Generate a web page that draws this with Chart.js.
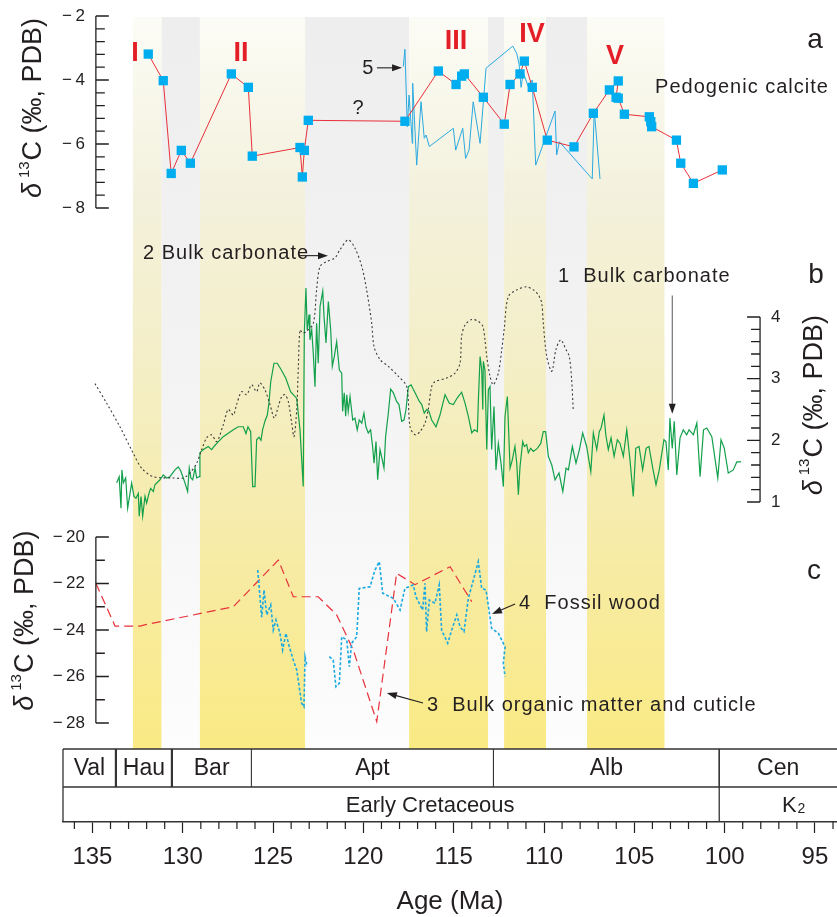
<!DOCTYPE html>
<html>
<head>
<meta charset="utf-8">
<script src="https://cdn.jsdelivr.net/npm/chart.js@4.4.1/dist/chart.umd.min.js"></script>
<style>
  html, body { margin: 0; padding: 0; background: #fff; }
  #wrap { width: 837px; height: 917px; }
</style>
</head>
<body>
<div id="wrap"><canvas id="chart" width="837" height="917"></canvas></div>
<script>
// ── Early Cretaceous carbon isotope curves (panels a, b, c) ──────────────────

var FONT = '"Liberation Sans", Arial, Helvetica, sans-serif';
var INK  = '#231f20';

// Panel a: pedogenic calcite (red line + blue squares)
var calciteAge  = [131.91, 131.08, 130.64, 130.08, 129.58, 127.31, 126.37, 126.15, 123.51, 123.38, 123.27, 123.05,
                   117.70, 115.85, 114.87, 114.56, 114.41, 113.36, 112.20, 111.88, 111.33, 111.09, 110.65, 109.82,
                   108.34, 107.27, 106.38, 105.89, 106.01, 105.89, 105.55, 104.17, 104.09, 104.04, 102.67, 102.43,
                   101.73, 100.13];
var calciteD13C = [-3.19, -4.02, -6.92, -6.20, -6.60, -3.81, -4.23, -6.38, -6.11, -7.03, -6.20, -5.26,
                   -5.29, -3.72, -4.14, -3.88, -3.81, -4.54, -5.38, -4.14, -3.81, -3.41, -4.23, -5.88,
                   -6.09, -5.04, -4.31, -4.03, -4.54, -4.57, -5.07, -5.15, -5.30, -5.46, -5.88, -6.60,
                   -7.23, -6.81];

// Panel a: curve 5 (thin blue)
var curve5Age  = [117.79, 117.70, 117.57, 117.47, 117.29, 117.27, 117.05, 116.81, 116.63, 116.53, 116.35, 115.02,
                  114.89, 114.50, 114.34, 114.15, 113.92, 113.54, 113.21, 111.73, 111.51, 111.38, 111.27, 111.15,
                  110.87, 110.65, 110.46, 110.00, 109.39, 109.30, 109.15, 107.33, 107.22, 106.90];
var curve5D13C = [-3.58, -3.04, -5.46, -4.47, -5.98, -4.10, -6.66, -4.68, -5.82, -5.72, -6.08, -5.51,
                  -6.19, -5.51, -6.45, -6.19, -4.68, -5.98, -3.63, -2.94, -3.17, -3.51, -4.23, -3.77,
                  -4.21, -4.00, -6.66, -5.93, -4.97, -6.34, -5.93, -7.09, -4.94, -7.09];

// Panel b: curve 1 bulk carbonate (green)
var bulk1Age = [133.66, 133.52, 133.42, 133.37, 133.29, 133.16, 133.05, 132.92, 132.83, 132.70, 132.59, 132.46,
                132.41, 132.31, 132.22, 132.09, 132.00, 131.87, 131.78, 131.63, 131.54, 131.26, 131.08, 130.89,
                130.71, 130.43, 130.25, 130.12, 129.97, 129.88, 129.73, 129.64, 129.55, 129.45, 129.32, 129.23,
                129.10, 129.05, 128.86, 128.59, 128.40, 128.27, 128.12, 127.76, 127.20, 126.93, 126.65, 126.50,
                126.39, 126.24, 126.13, 126.00, 125.91, 125.78, 125.67, 125.58, 125.45, 125.32, 125.23, 125.13,
                124.95, 124.77, 124.58, 124.30, 124.03, 123.69, 123.51, 123.33, 123.27, 123.18, 123.11, 123.01,
                122.96, 122.86, 122.77, 122.68, 122.59, 122.50, 122.40, 122.25, 122.18, 122.07, 121.94, 121.81,
                121.72, 121.61, 121.48, 121.33, 121.20, 121.15, 121.06, 120.98, 120.92, 120.84, 120.74, 120.59,
                120.47, 120.34, 120.23, 120.09, 119.97, 119.86, 119.73, 119.60, 119.49, 119.41, 119.30, 119.21,
                119.08, 118.95, 118.86, 118.77, 118.62, 118.49, 118.34, 118.16, 118.03, 117.88, 117.75, 117.64,
                117.51, 117.36, 117.14, 116.90, 116.77, 116.63, 116.49, 116.37, 116.22, 115.98, 115.76, 115.48,
                115.24, 115.02, 114.80, 114.56, 114.37, 114.19, 114.00, 113.86, 113.69, 113.64, 113.54, 113.45,
                113.39, 113.36, 113.27, 113.17, 113.08, 112.99, 112.90, 112.77, 112.66, 112.53, 112.38, 112.25,
                112.16, 112.03, 111.88, 111.76, 111.61, 111.51, 111.42, 111.33, 111.18, 111.09, 110.96, 110.87,
                110.74, 110.59, 110.37, 110.18, 110.04, 109.91, 109.76, 109.57, 109.39, 109.17, 108.96, 108.78,
                108.65, 108.43, 108.23, 108.04, 107.86, 107.64, 107.41, 107.27, 107.08, 106.94, 106.84, 106.68,
                106.58, 106.44, 106.29, 106.12, 105.94, 105.79, 105.61, 105.42, 105.24, 105.06, 104.92, 104.74,
                104.54, 104.35, 104.19, 103.98, 103.80, 103.62, 103.36, 103.25, 103.12, 103.03, 102.90, 102.79,
                102.65, 102.47, 102.29, 102.10, 101.97, 101.73, 101.54, 101.36, 101.17, 100.99, 100.71, 100.38,
                100.20, 100.02, 99.80, 99.52, 99.33, 99.09];
var bulk1D13C = [1.31, 1.41, 0.90, 1.52, 1.31, 1.39, 0.90, 1.14, 1.31, 1.09, 1.06, 1.14,
                 0.77, 1.09, 0.77, 1.09, 0.98, 1.14, 1.22, 1.17, 1.28, 1.36, 1.44, 1.39,
                 1.41, 1.52, 1.57, 1.51, 1.39, 1.31, 1.17, 1.55, 1.39, 1.36, 1.55, 1.39,
                 1.41, 1.80, 1.85, 1.90, 1.85, 1.90, 1.95, 2.06, 2.17, 2.22, 2.22, 2.11,
                 2.22, 2.14, 1.25, 1.25, 2.01, 2.05, 2.00, 2.17, 2.31, 2.41, 2.60, 2.95,
                 3.25, 3.25, 3.16, 3.01, 2.79, 2.68, 2.17, 1.25, 3.74, 4.47, 3.79, 4.04,
                 3.63, 3.79, 3.39, 2.87, 3.90, 3.25, 4.17, 4.42, 4.01, 3.58, 4.25, 3.79,
                 3.20, 3.36, 3.60, 3.14, 3.09, 2.47, 2.77, 2.39, 2.74, 2.47, 2.71, 2.33,
                 2.36, 2.17, 2.33, 2.28, 2.44, 2.22, 2.12, 2.17, 1.90, 1.63, 1.98, 1.36,
                 1.85, 1.68, 1.55, 2.06, 2.44, 2.83, 2.77, 2.63, 2.58, 2.31, 2.33, 2.50,
                 2.87, 2.90, 2.77, 2.63, 2.58, 2.44, 2.50, 2.47, 2.33, 2.22, 2.41, 2.74,
                 2.60, 2.58, 2.69, 2.78, 2.60, 2.39, 2.12, 2.17, 2.14, 2.60, 3.36, 3.14,
                 2.50, 3.28, 3.14, 1.85, 2.82, 2.87, 1.85, 2.55, 1.52, 1.95, 1.63, 1.25,
                 2.39, 2.71, 1.55, 1.68, 1.90, 1.63, 1.12, 1.57, 1.98, 1.90, 1.93, 1.80,
                 1.87, 1.82, 1.87, 1.95, 2.14, 2.14, 1.74, 1.60, 1.36, 1.47, 1.17, 1.55,
                 1.52, 1.90, 1.63, 1.85, 2.12, 1.90, 1.49, 2.12, 1.85, 2.14, 2.20, 2.41,
                 2.09, 1.85, 2.04, 1.74, 2.01, 1.95, 1.74, 2.17, 1.68, 1.09, 1.87, 1.90,
                 1.52, 1.87, 1.90, 1.55, 1.28, 1.52, 2.01, 1.98, 1.52, 2.36, 1.87, 2.31,
                 1.44, 2.04, 2.17, 2.09, 2.17, 2.09, 2.28, 1.41, 2.17, 2.20, 2.06, 1.39,
                 2.01, 1.87, 1.47, 1.52, 1.65, 1.65];

// Panel b: curve 2 bulk carbonate (black dotted)
var bulk2Age = [134.86, 134.21, 133.48, 132.74, 132.28, 131.63, 130.53, 129.97, 129.60, 129.23, 128.95, 128.68,
                128.40, 128.12, 127.76, 127.48, 127.20, 127.02, 126.74, 126.46, 126.19, 125.91, 125.73, 125.45,
                125.17, 124.93, 124.71, 124.52, 124.34, 124.16, 123.97, 123.84, 123.69, 123.60, 123.51, 123.36,
                123.14, 122.77, 122.59, 122.40, 122.03, 121.57, 121.30, 120.84, 120.47, 120.09, 119.82, 119.54,
                119.41, 119.08, 118.62, 118.07, 117.60, 117.42, 117.14, 116.87, 116.59, 116.41, 116.22, 116.04,
                115.39, 114.93, 114.65, 114.56, 114.37, 114.00, 113.64, 113.39, 113.27, 113.17, 112.99, 112.81,
                112.53, 112.34, 112.21, 111.98, 111.51, 110.96, 110.59, 110.32, 110.13, 110.04, 109.85, 109.57,
                109.34, 109.08, 108.78, 108.60, 108.47, 108.38];
var bulk2D13C = [2.92, 2.60, 2.22, 1.79, 1.55, 1.41, 1.39, 1.39, 1.47, 1.63, 1.85, 2.04,
                 2.09, 1.98, 2.25, 2.50, 2.41, 2.58, 2.79, 2.74, 2.90, 2.79, 2.93, 2.82,
                 2.58, 2.36, 2.55, 2.71, 2.74, 2.63, 2.28, 2.06, 2.50, 3.20, 3.79, 3.74,
                 3.77, 3.90, 4.44, 4.82, 4.90, 4.96, 5.09, 5.25, 5.12, 4.82, 4.44, 3.90,
                 3.52, 3.31, 3.20, 3.04, 2.87, 2.22, 2.09, 2.14, 2.28, 2.50, 2.87, 2.95,
                 3.01, 3.09, 3.25, 3.69, 3.87, 3.96, 3.93, 3.85, 3.63, 3.36, 3.04, 2.90,
                 3.09, 3.47, 3.79, 4.33, 4.44, 4.49, 4.44, 4.36, 4.23, 3.90, 3.36, 3.12,
                 3.47, 3.63, 3.47, 3.36, 2.98, 2.47];

// Panel c: curve 3 bulk organic matter and cuticle (red dashed)
var organicAge  = [134.81, 133.75, 132.37, 132.00, 127.20, 124.71, 123.88, 122.50, 121.48, 120.56, 119.26, 118.16,
                   117.14, 115.20, 114.00];
var organicD13C = [-21.99, -23.83, -23.83, -23.76, -23.00, -20.99, -22.57, -22.57, -23.35, -24.86, -27.94, -21.56,
                   -22.05, -21.28, -22.78];

// Panel c: curve 4 fossil wood (blue dotted, null = gap in record)
var woodAge  = [125.85, 125.63, 125.50, 125.35, 125.13, 124.99, 124.84, 124.62, 124.47, 124.29, 124.10, 123.88,
                123.69, 123.42, 123.29, 123.23, 123.11, 122.50, 121.89, 121.67, 121.52, 121.33, 121.20, 120.92,
                120.78, 120.65, 120.37, 120.23, 119.63, 119.36, 119.12, 118.93, 118.34, 117.97, 117.70, 117.24,
                117.09, 116.72, 116.59, 116.50, 116.35, 116.04, 115.80, 115.67, 115.33, 115.11, 114.83, 114.65,
                114.43, 114.19, 113.91, 113.64, 113.45, 113.21, 112.90, 112.53, 112.16, 112.25, 112.16];
var woodD13C = [-21.42, -23.45, -22.28, -23.35, -22.92, -24.00, -23.57, -24.14, -24.86, -24.14, -24.72, -25.29,
                -25.72, -27.15, -27.30, -25.15, -25.58, null, -25.15, -25.29, -26.44, -26.29, -24.29, -24.43,
                -25.58, -24.57, -24.29, -22.21, -22.14, -21.42, -21.06, -22.42, -22.64, -23.14, -22.21, -22.06,
                -22.57, -23.14, -21.99, -24.07, -22.71, -22.85, -22.06, -24.00, -24.57, -24.00, -23.35, -23.86,
                -24.07, -22.64, -21.85, -21.06, -22.21, -22.28, -23.93, -24.14, -24.72, -25.43, -26.00];

// Background intervals (Ma)
var yellowBands = [[132.76, 131.18], [129.05, 123.23], [117.47, 113.10], [112.21, 109.89], [107.62, 103.33]];
var grayBands   = [[131.18, 129.05], [123.23, 117.47], [113.10, 112.21], [109.89, 107.62]];

// Time scale
var stageNames  = ['Val', 'Hau', 'Bar', 'Apt', 'Alb', 'Cen'];
var stageBounds = [136.63, 133.7, 130.6, 126.2, 112.8, 100.3, 93.78];
var periodBound = 100.3;

// Age axis range
var AGE_OLD = 136.63, AGE_YOUNG = 93.78;

// Map value range onto the plot height so the three panels share one chart area
var PLOT_H = 822;
function fitRange(vTop, pTop, vBot, pBot) {
    var k = (vTop - vBot) / (pBot - pTop);
    return { max: vTop + pTop * k, min: vBot - (PLOT_H - pBot) * k };
}
var rangeA = fitRange(-2, 16, -8, 208);
var rangeB = fitRange(4, 317, 1, 502);
var rangeC = fitRange(-20, 537, -28, 723);

function pairs(xs, ys) {
    return xs.map(function (x, i) { return { x: x, y: ys[i] }; });
}

// ── drawing helpers ──────────────────────────────────────────────────────────

function arrow(ctx, x1, y1, x2, y2, color) {
    var ang = Math.atan2(y2 - y1, x2 - x1);
    ctx.save();
    ctx.strokeStyle = color || INK;
    ctx.fillStyle = INK;
    ctx.lineWidth = 1.1;
    ctx.beginPath();
    ctx.moveTo(x1, y1);
    ctx.lineTo(x2 - 6 * Math.cos(ang), y2 - 6 * Math.sin(ang));
    ctx.stroke();
    ctx.beginPath();
    ctx.moveTo(x2, y2);
    ctx.lineTo(x2 - 10 * Math.cos(ang) + 3.5 * Math.sin(ang), y2 - 10 * Math.sin(ang) - 3.5 * Math.cos(ang));
    ctx.lineTo(x2 - 10 * Math.cos(ang) - 3.5 * Math.sin(ang), y2 - 10 * Math.sin(ang) + 3.5 * Math.cos(ang));
    ctx.closePath();
    ctx.fill();
    ctx.restore();
}

function deltaTitle(ctx, cx, cy) {
    var parts = [
        { t: '\u03b4', f: 'italic 27px ' + FONT, dy: 0, gap: 5 },
        { t: '13', f: '15px ' + FONT, dy: -9, gap: 1 },
        { t: 'C (\u2030, PDB)', f: '27px ' + FONT, dy: 0, gap: 0 }
    ];
    ctx.save();
    ctx.translate(cx, cy);
    ctx.rotate(-Math.PI / 2);
    ctx.fillStyle = INK;
    ctx.textBaseline = 'middle';
    ctx.textAlign = 'left';
    var total = 0;
    parts.forEach(function (p) { ctx.font = p.f; p.w = ctx.measureText(p.t).width; total += p.w + p.gap; });
    var x = -total / 2;
    parts.forEach(function (p) { ctx.font = p.f; ctx.fillText(p.t, x, p.dy); x += p.w + p.gap; });
    ctx.restore();
}

function panelAxis(ctx, chart, o) {
    var xs = chart.scales.x, ys = chart.scales[o.scale];
    var x0 = xs.getPixelForValue(o.age);
    ctx.save();
    ctx.strokeStyle = INK;
    ctx.lineWidth = 1.3;
    ctx.beginPath();
    ctx.moveTo(x0, ys.getPixelForValue(o.max));
    ctx.lineTo(x0, ys.getPixelForValue(o.min));
    var n = Math.round((o.max - o.min) / o.step);
    for (var i = 0; i <= n; i++) {
        var v = o.max - i * o.step;
        var y = ys.getPixelForValue(v);
        var major = o.labels.some(function (l) { return Math.abs(l - v) < 1e-6; });
        ctx.moveTo(x0, y);
        ctx.lineTo(x0 + o.dir * (major ? 13 : 9), y);
    }
    ctx.stroke();
    ctx.fillStyle = INK;
    ctx.font = '17px ' + FONT;
    ctx.textBaseline = 'middle';
    ctx.textAlign = o.dir > 0 ? 'right' : 'left';
    o.labels.forEach(function (l) {
        var txt = l < 0 ? '\u2212\u2009' + Math.abs(l) : String(l);
        ctx.fillText(txt, x0 - o.dir * 11, ys.getPixelForValue(l));
    });
    ctx.restore();
    deltaTitle(ctx, x0 + o.titleDx, ys.getPixelForValue(o.titleAt));
}

// Text notes placed in data coordinates of their panel
var notes = [
    { t: 'I',   age: 132.65, v: -3.16, s: 'ya', kind: 'roman' },
    { t: 'II',  age: 126.78, v: -3.16, s: 'ya', kind: 'roman' },
    { t: 'III', age: 114.87, v: -2.80, s: 'ya', kind: 'roman' },
    { t: 'IV',  age: 110.67, v: -2.58, s: 'ya', kind: 'roman' },
    { t: 'V',   age: 106.07, v: -3.28, s: 'ya', kind: 'roman' },
    { t: '5',   age: 119.75, v: -3.64, s: 'ya', kind: 'mid' },
    { t: '?',   age: 120.30, v: -4.875, s: 'ya', kind: 'mid' },
    { t: 'Pedogenic calcite', age: 103.85, v: -4.23, s: 'ya', kind: 'note' },
    { t: 'a',   age: 95.00, v: -2.75, s: 'ya', kind: 'panel' },
    { t: '2 Bulk carbonate', age: 132.20, v: 5.03, s: 'yb', kind: 'note' },
    { t: '1  Bulk carbonate', age: 109.23, v: 4.65, s: 'yb', kind: 'note' },
    { t: 'b',   age: 94.94, v: 4.67, s: 'yb', kind: 'panel' },
    { t: 'c',   age: 95.05, v: -21.46, s: 'yc', kind: 'panel' },
    { t: '4  Fossil wood', age: 111.38, v: -22.84, s: 'yc', kind: 'note' },
    { t: '3  Bulk organic matter and cuticle', age: 116.48, v: -27.23, s: 'yc', kind: 'note' }
];
var arrows = [
    { s: 'ya', a1: 119.25, v1: -3.62, a2: 117.86, v2: -3.62 },
    { s: 'yb', a1: 123.51, v1: 4.995, a2: 121.96, v2: 4.995 },
    { s: 'yb', a1: 102.90, v1: 4.35, a2: 102.90, v2: 2.43, color: '#666' },
    { s: 'yc', a1: 111.60, v1: -22.88, a2: 112.88, v2: -23.31 },
    { s: 'yc', a1: 116.70, v1: -27.14, a2: 118.70, v2: -26.71 }
];

// ── plugins ──────────────────────────────────────────────────────────────────

var bandsPlugin = {
    id: 'bands',
    beforeDatasetsDraw: function (chart) {
        var ctx = chart.ctx, xs = chart.scales.x, area = chart.chartArea;
        var top = area.top + 17, bottom = area.bottom - 73;
        var gy = ctx.createLinearGradient(0, top, 0, bottom);
        gy.addColorStop(0, '#fcfcf6');
        gy.addColorStop(0.25, '#f3f1dc');
        gy.addColorStop(0.5, '#f4eec4');
        gy.addColorStop(0.75, '#f7eba4');
        gy.addColorStop(1, '#faea84');
        var gg = ctx.createLinearGradient(0, top, 0, bottom);
        gg.addColorStop(0, '#eeeeee');
        gg.addColorStop(0.5, '#f3f3f3');
        gg.addColorStop(1, '#fdfdfd');
        ctx.save();
        function fillBands(list, fill) {
            ctx.fillStyle = fill;
            list.forEach(function (b) {
                var x1 = xs.getPixelForValue(b[0]), x2 = xs.getPixelForValue(b[1]);
                ctx.fillRect(x1, top, x2 - x1, bottom - top);
            });
        }
        fillBands(grayBands, gg);
        fillBands(yellowBands, gy);
        ctx.restore();
    }
};

var framePlugin = {
    id: 'frame',
    afterDatasetsDraw: function (chart) {
        var ctx = chart.ctx, xs = chart.scales.x, area = chart.chartArea;

        panelAxis(ctx, chart, { scale: 'ya', age: 134.81, min: -8, max: -2, step: 0.4, dir: 1,
            labels: [-2, -4, -6, -8], titleDx: -62, titleAt: -4.875 });
        panelAxis(ctx, chart, { scale: 'yb', age: 98.04, min: 1, max: 4, step: 0.2, dir: -1,
            labels: [4, 3, 2, 1], titleDx: 54, titleAt: 2.57 });
        panelAxis(ctx, chart, { scale: 'yc', age: 134.81, min: -28, max: -20, step: 1, dir: 1,
            labels: [-20, -22, -24, -26, -28], titleDx: -70, titleAt: -23.6 });

        // Time-scale table
        var top = area.bottom - 73, mid = area.bottom - 35, bot = area.bottom;
        ctx.save();
        ctx.strokeStyle = '#333';
        ctx.lineWidth = 1.3;
        ctx.beginPath();
        ctx.moveTo(area.left, top); ctx.lineTo(area.right, top);
        ctx.moveTo(area.left, mid); ctx.lineTo(area.right, mid);
        ctx.moveTo(area.left, top); ctx.lineTo(area.left, bot);
        var pb = xs.getPixelForValue(periodBound);
        ctx.moveTo(pb, top); ctx.lineTo(pb, bot);
        ctx.stroke();
        for (var i = 1; i < stageBounds.length - 1; i++) {
            var bx = xs.getPixelForValue(stageBounds[i]);
            ctx.lineWidth = i <= 2 ? 2.2 : 1.1;
            ctx.beginPath(); ctx.moveTo(bx, top); ctx.lineTo(bx, mid); ctx.stroke();
        }
        ctx.fillStyle = INK;
        ctx.textAlign = 'center';
        ctx.textBaseline = 'middle';
        ctx.font = '23px ' + FONT;
        stageNames.forEach(function (name, i) {
            var cx = xs.getPixelForValue((stageBounds[i] + stageBounds[i + 1]) / 2);
            ctx.fillText(name, cx, (top + mid) / 2 + 1);
        });
        ctx.font = '22px ' + FONT;
        ctx.fillText('Early Cretaceous', xs.getPixelForValue(116.3), (mid + bot) / 2 + 1);
        var kx = xs.getPixelForValue(96.2);
        ctx.fillText('K', kx - 4, (mid + bot) / 2 + 1);
        ctx.font = '14px ' + FONT;
        ctx.fillText('2', kx + 8, (mid + bot) / 2 + 5);

        // Minor age ticks (majors drawn by the x scale)
        ctx.strokeStyle = '#222';
        ctx.lineWidth = 1.2;
        ctx.beginPath();
        for (var a = 94; a <= 136; a++) {
            if (a % 5 === 0) continue;
            var tx = xs.getPixelForValue(a);
            ctx.moveTo(tx, bot); ctx.lineTo(tx, bot + 7);
        }
        ctx.stroke();
        ctx.restore();

        // Notes and arrows
        ctx.save();
        ctx.textBaseline = 'middle';
        notes.forEach(function (n) {
            var px = xs.getPixelForValue(n.age), py = chart.scales[n.s].getPixelForValue(n.v);
            ctx.letterSpacing = '0px';
            if (n.kind === 'roman') {
                ctx.fillStyle = '#e41e26';
                ctx.font = 'bold 27px "Liberation Sans Narrow", ' + FONT;
                ctx.textAlign = 'center';
            } else if (n.kind === 'panel') {
                ctx.fillStyle = INK;
                ctx.font = '28px ' + FONT;
                ctx.textAlign = 'center';
            } else if (n.kind === 'mid') {
                ctx.fillStyle = INK;
                ctx.font = '20px ' + FONT;
                ctx.textAlign = 'center';
            } else {
                ctx.fillStyle = INK;
                ctx.font = '20px ' + FONT;
                ctx.letterSpacing = '1px';
                ctx.textAlign = 'left';
            }
            ctx.fillText(n.t, px, py);
        });
        ctx.restore();
        arrows.forEach(function (r) {
            var ys = chart.scales[r.s];
            arrow(ctx, xs.getPixelForValue(r.a1), ys.getPixelForValue(r.v1),
                       xs.getPixelForValue(r.a2), ys.getPixelForValue(r.v2), r.color);
        });
    }
};

/* global Chart */
new Chart(document.getElementById('chart'), {
    type: 'line',
    data: {
        datasets: [
            {
                label: '1 Bulk carbonate',
                data: pairs(bulk1Age, bulk1D13C),
                yAxisID: 'yb',
                borderColor: '#12a04a',
                borderWidth: 1.2,
                pointRadius: 0,
                tension: 0,
                order: 6
            },
            {
                label: '2 Bulk carbonate',
                data: pairs(bulk2Age, bulk2D13C),
                yAxisID: 'yb',
                borderColor: '#3a3a3a',
                borderWidth: 1.1,
                borderDash: [2, 2.5],
                pointRadius: 0,
                tension: 0.3,
                order: 5
            },
            {
                label: '3 Bulk organic matter and cuticle',
                data: pairs(organicAge, organicD13C),
                yAxisID: 'yc',
                borderColor: '#e8303a',
                borderWidth: 1.2,
                borderDash: [9, 5],
                pointRadius: 0,
                tension: 0,
                order: 4
            },
            {
                label: '4 Fossil wood',
                data: pairs(woodAge, woodD13C),
                yAxisID: 'yc',
                borderColor: '#1ba9e1',
                borderWidth: 1.6,
                borderDash: [3, 2],
                pointRadius: 0,
                tension: 0,
                spanGaps: false,
                order: 3
            },
            {
                label: '5',
                data: pairs(curve5Age, curve5D13C),
                yAxisID: 'ya',
                borderColor: '#2aa9e0',
                borderWidth: 1,
                pointRadius: 0,
                tension: 0,
                order: 2
            },
            {
                label: 'Pedogenic calcite',
                data: pairs(calciteAge, calciteD13C),
                yAxisID: 'ya',
                borderColor: '#e8303a',
                borderWidth: 1,
                pointStyle: 'rect',
                pointRadius: 6.6,
                pointBackgroundColor: '#00aeef',
                pointBorderWidth: 0,
                tension: 0,
                order: 1
            }
        ]
    },
    options: {
        responsive: false,
        animation: false,
        events: [],
        layout: { autoPadding: false, padding: { left: 63, right: 0, top: 0, bottom: 0 } },
        plugins: {
            legend: { display: false },
            tooltip: { enabled: false }
        },
        scales: {
            x: {
                type: 'linear',
                reverse: true,
                min: AGE_YOUNG,
                max: AGE_OLD,
                afterBuildTicks: function (scale) {
                    var t = [];
                    for (var v = 94; v <= 136; v++) t.push({ value: v });
                    scale.ticks = t;
                },
                afterFit: function (scale) {
                    scale.height = 95;
                    scale.paddingLeft = 0;
                    scale.paddingRight = 0;
                },
                border: { display: true, color: '#333', width: 1.4 },
                grid: {
                    drawOnChartArea: false,
                    tickLength: 11,
                    tickWidth: 1.2,
                    tickColor: function (c) {
                        return (c.tick && c.tick.value % 5 === 0) ? '#222' : 'rgba(0,0,0,0)';
                    }
                },
                ticks: {
                    autoSkip: false,
                    maxRotation: 0,
                    padding: 10,
                    color: INK,
                    font: { family: FONT, size: 24 },
                    callback: function (v) { return v % 5 === 0 ? String(v) : ''; }
                },
                title: {
                    display: true,
                    text: 'Age (Ma)',
                    color: INK,
                    font: { family: FONT, size: 26 },
                    padding: { top: 0, bottom: 0 }
                }
            },
            ya: { type: 'linear', display: false, min: rangeA.min, max: rangeA.max },
            yb: { type: 'linear', display: false, min: rangeB.min, max: rangeB.max },
            yc: { type: 'linear', display: false, min: rangeC.min, max: rangeC.max }
        }
    },
    plugins: [bandsPlugin, framePlugin]
});
</script>
</body>
</html>
